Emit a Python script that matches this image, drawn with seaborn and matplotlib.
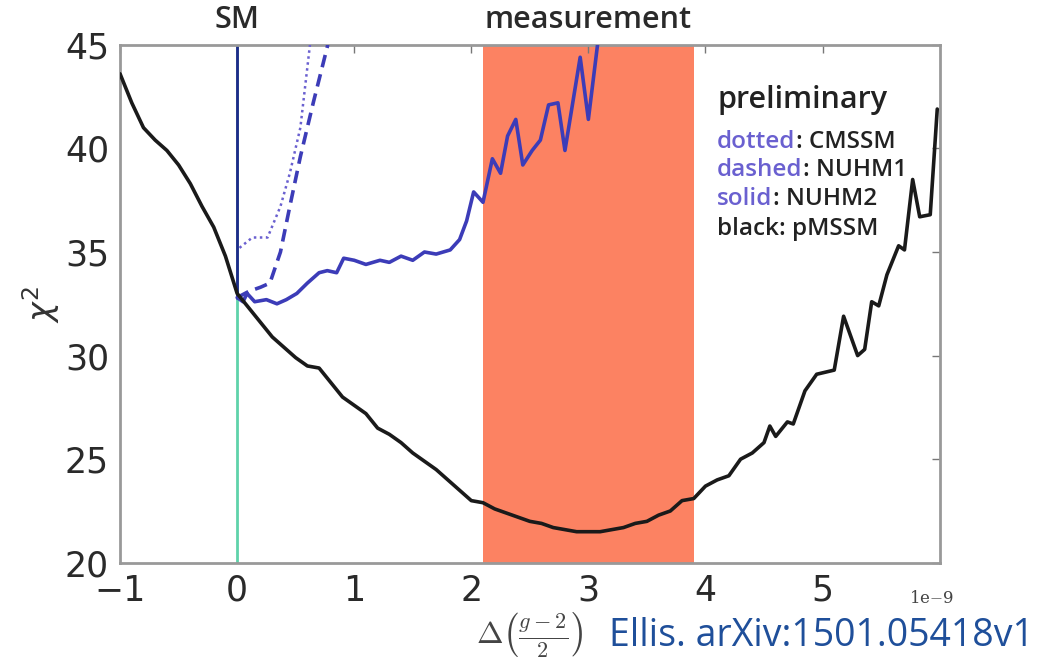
import numpy as np
import pandas as pd
import matplotlib
matplotlib.use("Agg")
import matplotlib.pyplot as plt
import seaborn as sns

# ---- data (x in units of 1e-9) ----
black_x = [-1.0, -0.9, -0.8, -0.7, -0.6, -0.5, -0.4, -0.3, -0.2, -0.1, 0.0, 0.1, 0.2, 0.3, 0.4,
           0.5, 0.6, 0.7, 0.8, 0.9, 1.0, 1.1, 1.2, 1.3, 1.4, 1.5, 1.6, 1.7, 1.8, 1.9, 2.0, 2.1,
           2.2, 2.3, 2.4, 2.5, 2.6, 2.7, 2.8, 2.9, 3.0, 3.1, 3.2, 3.3, 3.4, 3.5, 3.6, 3.7, 3.8,
           3.9, 4.0, 4.1, 4.2, 4.3, 4.4, 4.5, 4.55, 4.6, 4.7, 4.75, 4.85, 4.95, 5.1, 5.18, 5.3,
           5.36, 5.42, 5.48, 5.55, 5.6, 5.65, 5.7, 5.77, 5.83, 5.92, 5.98]
black_y = [43.6, 42.2, 41.0, 40.4, 39.9, 39.2, 38.3, 37.2, 36.2, 34.8, 33.0, 32.3, 31.6, 30.9, 30.4,
           29.9, 29.5, 29.4, 28.7, 28.0, 27.6, 27.2, 26.5, 26.2, 25.8, 25.3, 24.9, 24.5, 24.0, 23.5,
           23.0, 22.9, 22.6, 22.4, 22.2, 22.0, 21.9, 21.7, 21.6, 21.5, 21.5, 21.5, 21.6, 21.7, 21.9,
           22.0, 22.3, 22.5, 23.0, 23.1, 23.7, 24.0, 24.2, 25.0, 25.3, 25.8, 26.6, 26.1, 26.8, 26.7,
           28.3, 29.1, 29.3, 31.9, 30.0, 30.3, 32.6, 32.4, 33.9, 34.6, 35.3, 35.1, 38.5, 36.7, 36.8,
           41.9]

solid_x = [0.0, 0.05, 0.085, 0.15, 0.25, 0.34, 0.42, 0.51, 0.6, 0.7, 0.77, 0.85, 0.91, 1.0, 1.1,
           1.22, 1.3, 1.4, 1.5, 1.6, 1.7, 1.82, 1.9, 1.96, 2.02, 2.10, 2.18, 2.25, 2.31, 2.38, 2.44,
           2.52, 2.59, 2.66, 2.74, 2.80, 2.93, 3.0, 3.1]
solid_y = [32.8, 32.6, 33.0, 32.6, 32.7, 32.5, 32.7, 33.0, 33.5, 34.0, 34.1, 34.0, 34.7, 34.6, 34.4,
           34.6, 34.5, 34.8, 34.6, 35.0, 34.9, 35.1, 35.6, 36.5, 37.9, 37.4, 39.5, 38.8, 40.6, 41.4,
           39.2, 39.9, 40.4, 42.1, 42.2, 39.9, 44.4, 41.4, 46.0]

dotted_x = [0.02, 0.13, 0.26, 0.37, 0.45, 0.54, 0.62, 0.66]
dotted_y = [35.2, 35.7, 35.7, 37.2, 38.8, 41.0, 44.9, 47.0]

dashed_x = [0.0, 0.1, 0.2, 0.28, 0.37, 0.45, 0.54, 0.65, 0.77, 0.82]
dashed_y = [32.8, 33.1, 33.3, 33.5, 35.0, 37.2, 39.6, 42.2, 44.9, 46.5]

band = [2.1, 3.9]
sm_x = 0.0

x_ticks = [-1, 0, 1, 2, 3, 4, 5]
y_ticks = [20, 25, 30, 35, 40, 45]
legend_labels = [("dotted", ": CMSSM"), ("dashed", ": NUHM1"), ("solid", ": NUHM2"), ("black", ": pMSSM")]

sns.set_theme(style="white")
plt.rcParams['font.family'] = ['DejaVu Sans']

fig = plt.figure(figsize=(10.44, 6.59), dpi=100)
ax = fig.add_axes([0.115, 0.146, 0.785, 0.786])

blue = "#3c3cb8"
light_blue = "#6a60d0"
ax.axvspan(band[0], band[1], color="#fc8262", zorder=0, lw=0)
ax.axvline(sm_x, color="#5fd3aa", lw=2, zorder=1)
ax.plot([sm_x, sm_x], [32.8, 45], color="#1e2a8a", lw=2, zorder=2)

df_b = pd.DataFrame({"x": black_x, "y": black_y})
df_s = pd.DataFrame({"x": solid_x, "y": solid_y})
df_d = pd.DataFrame({"x": dotted_x, "y": dotted_y})
df_a = pd.DataFrame({"x": dashed_x, "y": dashed_y})

sns.lineplot(data=df_b, x="x", y="y", ax=ax, color="#1a1a1a", lw=2.6, sort=False, zorder=4)
sns.lineplot(data=df_s, x="x", y="y", ax=ax, color=blue, lw=2.6, sort=False, zorder=3)
sns.lineplot(data=df_d, x="x", y="y", ax=ax, color=light_blue, lw=1.8, ls=(0, (1, 1.4)), sort=False, zorder=3)
sns.lineplot(data=df_a, x="x", y="y", ax=ax, color=blue, lw=2.6, ls=(0, (3.5, 2)), sort=False, zorder=3)

ax.set_xlim(-1, 6)
ax.set_ylim(20, 45)
ax.set_xticks(x_ticks)
ax.set_yticks(y_ticks)
ax.set_xticklabels(["\u22121" if v < 0 else str(v) for v in x_ticks])
ax.tick_params(direction="in", length=6, width=1, top=True, right=True, labelsize=25,
               color="#777777", labelcolor="#2a2a2a", pad=8)
for sp in ax.spines.values():
    sp.set_color("#999999")
    sp.set_linewidth(2)

xl = ax.set_xlabel(r"$\Delta\left(\frac{g-2}{2}\right)$", fontsize=23, color="#444444", labelpad=2)
xl.set_math_fontfamily("cm")
ax.set_ylabel(r"$\chi^2$", fontsize=24, color="#333333", labelpad=2)

fig.text(0.892, 0.092, r"1e$-$9", fontsize=12, color="#444444", family="DejaVu Serif",
         math_fontfamily="cm", ha="center", va="center")

# top labels
ax.text(sm_x, 45.45, "SM", ha="center", va="bottom", fontsize=22, color="#2a2a2a",
        family="Open Sans", fontweight="semibold")
ax.text(3.0, 45.45, "measurement", ha="center", va="bottom", fontsize=22, color="#2a2a2a",
        family="Open Sans", fontweight="semibold")

# annotation legend
ax.text(4.1, 42.35, "preliminary", ha="left", va="center", fontsize=22, color="#222222",
        family="Open Sans", fontweight="semibold")
ys = [40.3, 38.95, 37.55, 36.1]
for (a, b), yy in zip(legend_labels, ys):
    c = light_blue if a != "black" else "#222222"
    t = ax.text(4.1, yy, a, ha="left", va="center", fontsize=17.5, color=c, family="Open Sans",
                fontweight="semibold")
    fig.canvas.draw()
    bb = t.get_window_extent()
    x1 = ax.transData.inverted().transform((bb.x1, bb.y0))[0]
    ax.text(x1, yy, b, ha="left", va="center", fontsize=17.5, color="#222222", family="Open Sans",
            fontweight="semibold")

fig.text(0.583, 0.006, "Ellis. arXiv:1501.05418v1", fontsize=27, color="#1f4f9a",
         family="Open Sans", ha="left", va="bottom")

fig.savefig("out.png", dpi=100)
